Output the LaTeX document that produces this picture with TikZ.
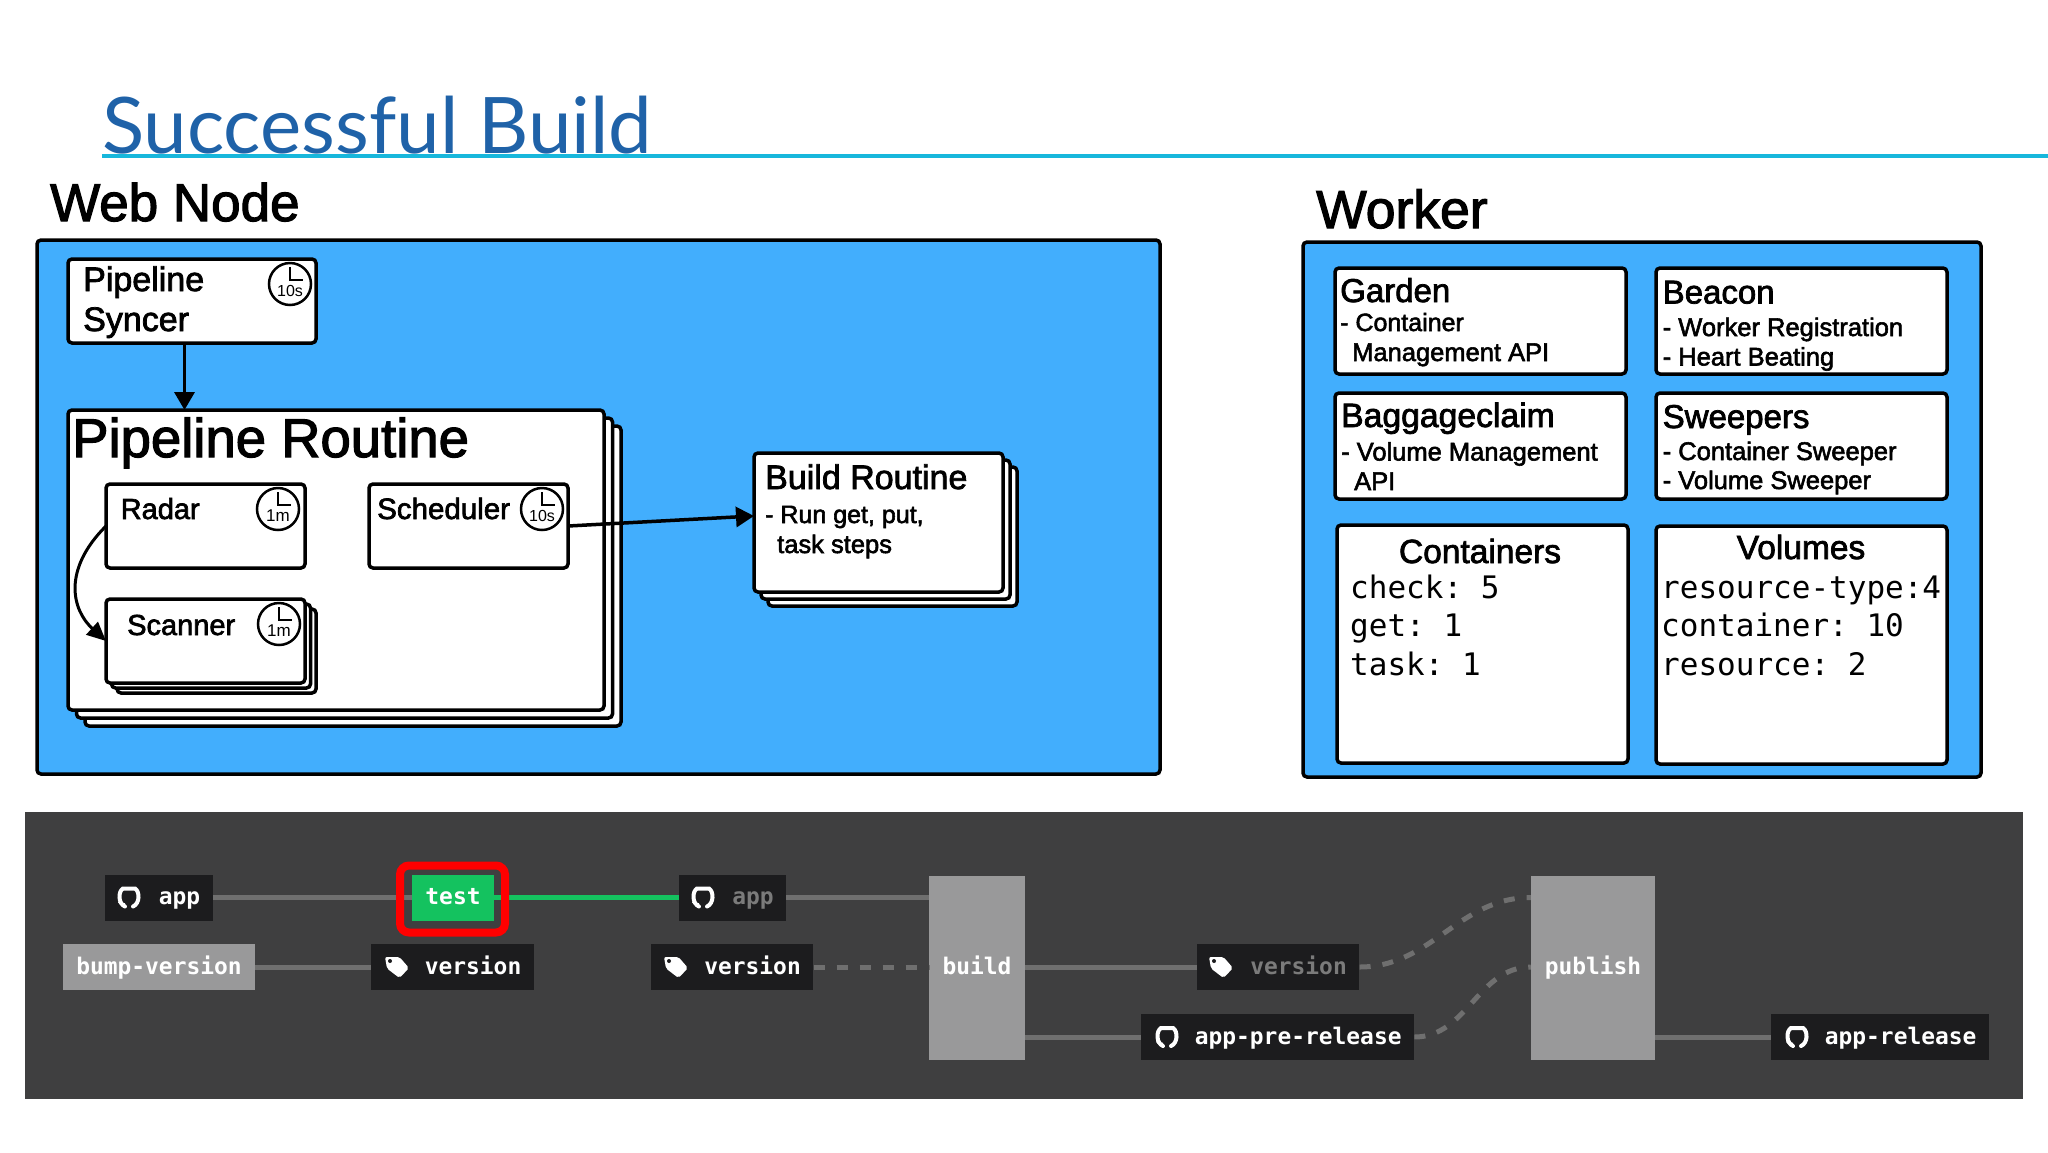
\documentclass[tikz,border=0pt]{standalone}
\usepackage{fontspec}
\setmainfont{Liberation Sans}
\setmonofont{DejaVu Sans Mono}
\newfontfamily\titlefont{Lato}
\newfontfamily\medfont[FakeBold=2.2]{Liberation Sans}
\usetikzlibrary{arrows.meta}
\definecolor{titleblue}{HTML}{1F62A8}
\definecolor{ruleblue}{HTML}{17B7DC}
\definecolor{panelblue}{HTML}{42AEFD}
\definecolor{darkpanel}{HTML}{3F3F40}
\definecolor{chipdark}{HTML}{1C1C1E}
\definecolor{jobgrey}{HTML}{99999A}
\definecolor{edgegrey}{HTML}{6F6F6F}
\definecolor{dimtext}{HTML}{7B7B7B}
\definecolor{passgreen}{HTML}{14C25F}
\tikzset{
  panel/.style={draw=black,fill=panelblue,line width=3.5pt,rounded corners=4pt,anchor=north west,inner sep=0pt,outer sep=0pt},
  card/.style={draw=black,fill=white,line width=3.5pt,rounded corners=4pt,anchor=north west,inner sep=0pt,outer sep=0pt},
  lbl/.style={anchor=base west,inner sep=0pt,font=\medfont\fontsize{#1}{#1}\selectfont},
  clocktxt/.style={inner sep=0pt,font=\fontsize{#1}{#1}\selectfont},
  clockface/.style={circle,draw=black,fill=white,line width=2.5pt,minimum size=42pt,inner sep=0pt},
  mono/.style={anchor=base west,inner sep=0pt,font=\ttfamily\fontsize{31}{32}\selectfont},
  chip/.style={fill=chipdark,text=white,anchor=west,inner xsep=12.6pt,inner ysep=0pt,minimum height=46pt,text height=18pt,text depth=4pt,font=\ttfamily\bfseries\fontsize{22.9}{24}\selectfont},
  job/.style={chip,fill=jobgrey,anchor=center},
  flow/.style={draw=edgegrey,line width=5pt},
  flowdash/.style={flow,dash pattern=on 11pt off 12pt},
  arrowline/.style={draw=black,line width=3.5pt,-{Triangle[length=18pt,width=20pt]}},
  gitmark/.pic={
    \draw[white,line width=4pt,line cap=round] (-4,9) .. controls (-11,6) and (-11,-6) .. (-6,-9) -- (6,-9) .. controls (11,-6) and (11,6) .. (4,9);
    \draw[white,line width=2.5pt] (-10,4) .. controls (-8,7) and (-6,7) .. (-4,7);
  },
  tagmark/.pic={
    \fill[white,rounded corners=2pt] (-12,-10) -- (2.5,-10) -- (12,1) -- (2.5,11) -- (-10,1.5) -- cycle;
    \fill[chipdark] (-7,-6) circle [radius=2];
  }
}
\begin{document}
\begin{tikzpicture}[x=1pt,y=-1pt]
\useasboundingbox (0,0) rectangle (2048,1152);
% Title
\node[anchor=base west,inner sep=0pt,text=titleblue,font=\titlefont\fontsize{78}{80}\selectfont] (title) at (102,153) {Successful Build};
\coordinate (rulea) at (102,156);
\coordinate (ruleb) at (2048,156);
\draw[ruleblue,line width=3.5pt] (rulea) -- (ruleb);
\node[lbl=53] (webtitle) at (50,221) {Web Node};
\node[lbl=53.5] (workertitle) at (1316,228) {Worker};

% Web node
\node[panel,minimum width=1123pt,minimum height=534pt] (webpanel) at (37,240) {};
\node[card,minimum width=248pt,minimum height=84pt] (syncer) at (68,259) {};
\node[lbl=34] (syncera) at (83,291) {Pipeline};
\node[lbl=34] (syncerb) at (83,331) {Syncer};

% Pipeline routine stack
\node[card,minimum width=536pt,minimum height=300pt] (routinec) at (85,426) {};
\node[card,minimum width=536pt,minimum height=300pt] (routineb) at (76.5,418) {};
\node[card,minimum width=536pt,minimum height=300pt] (routine) at (68,410) {};
\node[lbl=54.5] (routinetitle) at (72,457) {Pipeline Routine};
\node[card,minimum width=199pt,minimum height=84pt] (radar) at (106,484) {};
\node[lbl=29] (radartxt) at (120.5,519) {Radar};
\node[card,minimum width=199pt,minimum height=84pt] (scheduler) at (369,484) {};
\node[lbl=29.5] (schedulertxt) at (377,519) {Scheduler};

% Scanner stack
\node[card,minimum width=199pt,minimum height=84pt] (scannerc) at (117,609) {};
\node[card,minimum width=199pt,minimum height=84pt] (scannerb) at (111.5,604) {};
\node[card,minimum width=199pt,minimum height=84pt] (scanner) at (106,599) {};
\node[lbl=29] (scannertxt) at (127,635) {Scanner};

% Build routine stack
\node[card,minimum width=249pt,minimum height=139pt] (buildc) at (768,467) {};
\node[card,minimum width=249pt,minimum height=139pt] (buildb) at (761,460) {};
\node[card,minimum width=249pt,minimum height=139pt] (buildr) at (754,453) {};
\node[lbl=34] (buildtitle) at (765,489) {Build Routine};
\node[lbl=25] (builda) at (765,523) {- Run get, put,};
\node[lbl=25.5] (buildtxtb) at (777,553) {task steps};

% Clocks
\foreach \nm/\cx/\cy/\lab/\sz in {sync/290/284/10s/16, rad/278/509/1m/17, sch/542/509/10s/16, scn/279/624/1m/17}{
  \node[clockface] (clock\nm) at (\cx,\cy) {};
  \draw[line width=2.2pt] (\cx,\cy-17) -- (\cx,\cy-4) -- (\cx+13,\cy-4);
  \node[clocktxt=\sz] (clocktxt\nm) at (\cx,\cy+7) {\lab};
}

% Web node arrows
\draw[arrowline] (syncer.south -| 184.5,0) -- (routine.north -| 184.5,0);
\draw[arrowline,line width=3pt,-{Triangle[length=19pt,width=17pt]}] (radar.west) .. controls (62,570) and (72,610) .. (scanner.west);
\draw[arrowline] (scheduler.east) -- (buildr.177);

% Worker
\node[panel,minimum width=678pt,minimum height=535pt] (workerpanel) at (1303,242) {};
\node[card,minimum width=291pt,minimum height=106pt] (garden) at (1335,268) {};
\node[lbl=33] (gardentitle) at (1340,302) {Garden};
\node[lbl=25] (gardena) at (1340,331) {- Container};
\node[lbl=25.5] (gardenb) at (1352,361) {Management API};
\node[card,minimum width=291pt,minimum height=106pt] (beacon) at (1656,268) {};
\node[lbl=33] (beacontitle) at (1662.5,303.5) {Beacon};
\node[lbl=25.5] (beacona) at (1662.5,336) {- Worker Registration};
\node[lbl=25.5] (beaconb) at (1662.5,365.5) {- Heart Beating};
\node[card,minimum width=291pt,minimum height=106pt] (baggage) at (1335,393) {};
\node[lbl=33.7] (baggagetitle) at (1341,427) {Baggageclaim};
\node[lbl=25.5] (baggagea) at (1341,460.5) {- Volume Management};
\node[lbl=25.5] (baggageb) at (1354,490) {API};
\node[card,minimum width=291pt,minimum height=106pt] (sweepers) at (1656,393) {};
\node[lbl=33] (sweeperstitle) at (1662.5,428) {Sweepers};
\node[lbl=25.5] (sweepersa) at (1662.5,460) {- Container Sweeper};
\node[lbl=25.5] (sweepersb) at (1662.5,489) {- Volume Sweeper};
\node[card,minimum width=291pt,minimum height=238pt] (containers) at (1337,525) {};
\node[lbl=33.5,anchor=base] (containerstitle) at (1480,563) {Containers};
\node[mono] (containersa) at (1350,598) {check: 5};
\node[mono] (containersb) at (1350,636) {get: 1};
\node[mono] (containersc) at (1350,675) {task: 1};
\node[card,minimum width=291pt,minimum height=238pt] (volumes) at (1656,526) {};
\node[lbl=33.5,anchor=base] (volumestitle) at (1801,559) {Volumes};
\node[mono] (volumesa) at (1661,598) {resource-type:4};
\node[mono] (volumesb) at (1661,636) {container: 10};
\node[mono] (volumesc) at (1661,675) {resource: 2};

% Dark pipeline panel
\node[fill=darkpanel,anchor=north west,inner sep=0pt,minimum width=1998pt,minimum height=287pt] (pipeline) at (25,812) {};
\node[chip] (appa) at (105,897.5) {\hspace*{41pt}app};
\node[chip,fill=passgreen,anchor=center,minimum width=82pt] (testjob) at (453,897.5) {test};
\node[chip] (appb) at (678.5,897.5) {\hspace*{41pt}\textcolor{dimtext}{app}};
\node[job,minimum width=192pt] (bump) at (159,967) {bump-version};
\node[chip] (versiona) at (371,967) {\hspace*{41pt}version};
\node[chip] (versionb) at (650.5,967) {\hspace*{41pt}version};
\node[job,minimum width=96pt,minimum height=184pt] (buildjob) at (977,967.5) {build};
\node[chip] (versionc) at (1196.5,967) {\hspace*{41pt}\textcolor{dimtext}{version}};
\node[chip] (apppre) at (1141,1037) {\hspace*{41pt}app-pre-release};
\node[job,minimum width=124pt,minimum height=184pt] (publish) at (1593,967.5) {publish};
\node[chip] (apprelease) at (1771,1037) {\hspace*{41pt}app-release};

% Pipeline edges
\draw[flow] (appa.east) -- (testjob.west);
\draw[flow,draw=passgreen] (testjob.east) -- (appb.west);
\draw[flow] (appb.east) -- (appb.east -| buildjob.west);
\draw[flow] (bump.east) -- (versiona.west);
\draw[flowdash] (versionb.east) -- (versionb.east -| buildjob.west);
\draw[flow] (versionc.west -| buildjob.east) -- (versionc.west);
\draw[flow] (apppre.west -| buildjob.east) -- (apppre.west);
\draw[flowdash] (versionc.east) to[out=0,in=180] (appb.east -| publish.west);
\draw[flowdash] (apppre.east) to[out=0,in=180] (versionc.east -| publish.west);
\draw[flow] (apprelease.west -| publish.east) -- (apprelease.west);

% Highlight round the test job
\node[draw=red,line width=8pt,rounded corners=9pt,inner sep=0pt,minimum width=105pt,minimum height=67pt] (highlight) at (452.5,899) {};

% Icons
\pic at (129,897.5) {gitmark};
\pic at (703,897.5) {gitmark};
\pic at (1167,1037) {gitmark};
\pic at (1797,1037) {gitmark};
\pic at (397,967) {tagmark};
\pic at (676,967) {tagmark};
\pic at (1221,967) {tagmark};
\end{tikzpicture}
\end{document}
